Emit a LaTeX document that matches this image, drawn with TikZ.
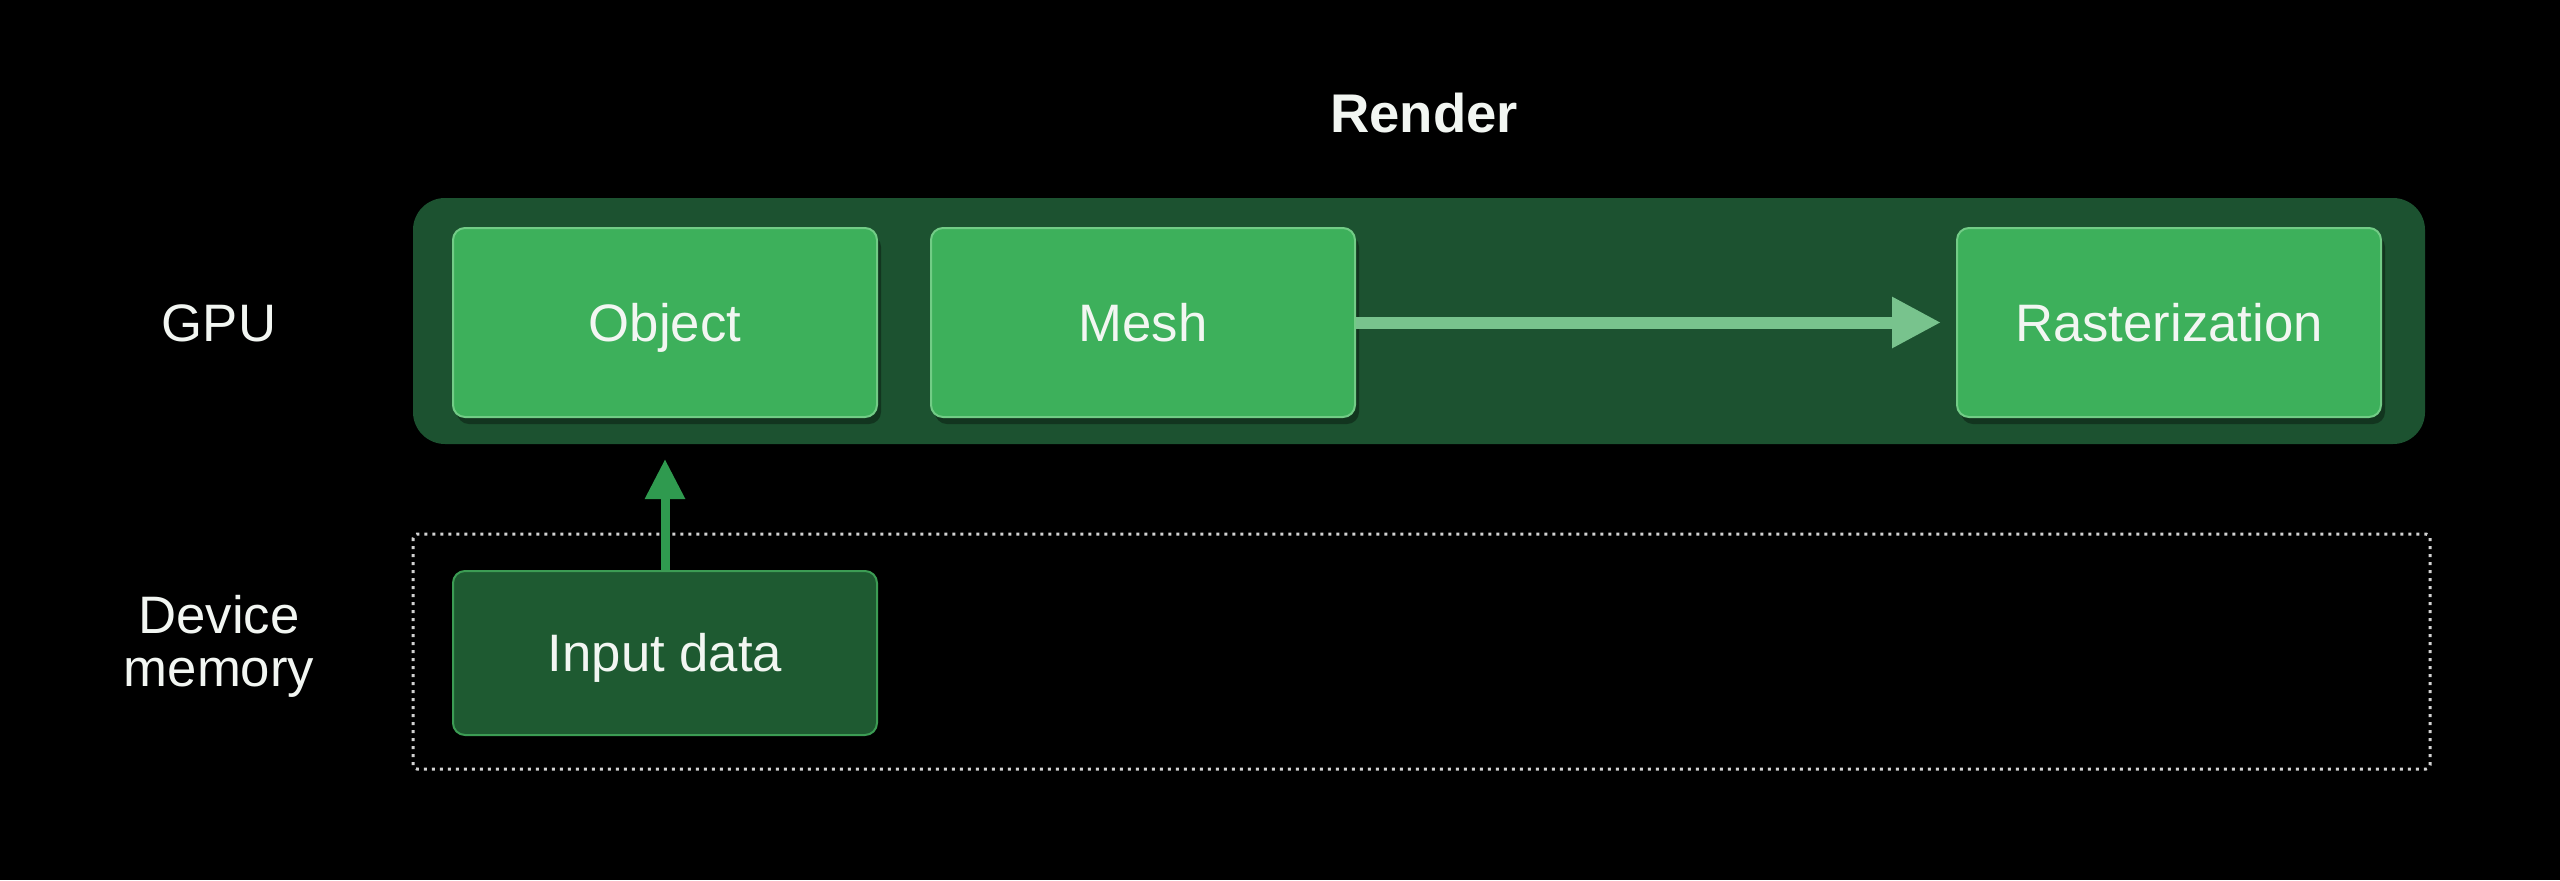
\documentclass[tikz,border=0pt]{standalone}
\usepackage{fontspec}
\setmainfont{Liberation Sans}
\usepackage{xcolor}
\usepackage{tikz}
\usetikzlibrary{arrows.meta, positioning, shadows}

\definecolor{bandgreen}{HTML}{1C5230}
\definecolor{boxgreen}{HTML}{3DB05B}
\definecolor{boxedge}{HTML}{72CC86}
\definecolor{memgreen}{HTML}{1E5A31}
\definecolor{memedge}{HTML}{3C9C54}
\definecolor{flowgreen}{HTML}{78C38D}
\definecolor{upgreen}{HTML}{2F9A4F}
\definecolor{dotgray}{HTML}{D2D2D2}
\definecolor{labelwhite}{HTML}{F2F6F2}

\tikzset{
  stagebox/.style={draw=boxedge, fill=boxgreen, line width=0.02cm, rounded corners=0.12cm,
    minimum width=4.24cm, minimum height=1.89cm, text=labelwhite,
    font=\fontsize{15}{18}\selectfont, text height=10.8pt, text depth=0pt,
    drop shadow={shadow xshift=0.04cm, shadow yshift=-0.07cm, opacity=0.35, fill=black}},
  inputbox/.style={draw=memedge, fill=memgreen, line width=0.02cm, rounded corners=0.12cm,
    minimum width=4.24cm, minimum height=1.64cm, text=labelwhite,
    font=\fontsize{15}{18}\selectfont, text height=10.8pt, text depth=0pt},
  sidelabel/.style={text=labelwhite, font=\fontsize{15}{15}\selectfont, align=center}
}

\begin{document}
\begin{tikzpicture}

\def\bw{25.6}
\def\bh{8.8}

% background
\fill[black] (0,0) rectangle (\bw,-\bh);

% title and row labels
\node[sidelabel, font=\fontsize{15.5}{18}\selectfont\bfseries] (render) at (14.24,-1.13) {Render};
\node[sidelabel] (gpu) at (2.19,-3.23) {GPU};
\node[sidelabel] (devmem) at (2.19,-6.46) {Device\\memory};

% GPU band
\fill[bandgreen, rounded corners=0.32cm] (4.13,-1.98) rectangle (24.25,-4.44);

% device memory region
\draw[dotgray, line width=0.03cm, dash pattern=on 0.03cm off 0.05cm, rounded corners=0.04cm]
  (4.13,-5.34) rectangle (24.30,-7.69);

% stages
\node[stagebox] (object) at (6.65,-3.225) {Object};
\node[stagebox] (mesh) at (11.43,-3.225) {Mesh};
\node[stagebox] (raster) at (21.69,-3.225) {Rasterization};

\node[inputbox] (input) at (6.65,-6.53) {Input data};

% connectors
\draw[flowgreen, line width=0.12cm, -{Triangle[length=0.49cm, width=0.48cm]}, shorten >=0.15cm]
  (mesh.east) -- (raster.west);
\draw[upgreen, line width=0.09cm, -{Triangle[length=0.40cm, width=0.38cm]}, shorten >=0.41cm]
  (input.north) -- (object.south);

\end{tikzpicture}
\end{document}
